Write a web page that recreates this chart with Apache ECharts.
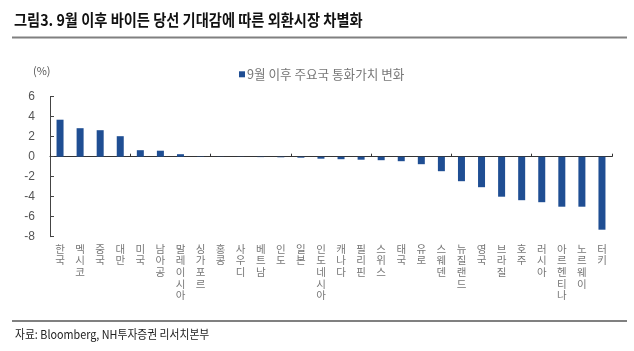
<!DOCTYPE html>
<html>
<head>
<meta charset="utf-8">
<script src="https://cdn.jsdelivr.net/npm/echarts@6/dist/echarts.min.js"></script>
<style>
  html, body { margin: 0; padding: 0; background: #fff; }
  #chart { width: 634px; height: 351px; }
</style>
</head>
<body>
<div id="chart"></div>
<script>
// 국가별 통화가치 변화 (%)
const countries = ['한국', '멕시코', '중국', '대만', '미국', '남아공', '말레이시아', '싱가포르', '홍콩', '사우디',
  '베트남', '인도', '일본', '인도네시아', '캐나다', '필리핀', '스위스', '태국', '유로', '스웨덴',
  '뉴질랜드', '영국', '브라질', '호주', '러시아', '아르헨티나', '노르웨이', '터키'];
const changes = [3.7, 2.85, 2.65, 2.05, 0.65, 0.6, 0.25, 0.04, 0.02, -0.02,
  -0.04, -0.06, -0.1, -0.2, -0.25, -0.3, -0.35, -0.45, -0.75, -1.45,
  -2.45, -3.05, -4.0, -4.35, -4.55, -5.0, -5.0, -7.3];
const seriesName = '9월 이후 주요국 통화가치 변화';
const yTicks = { min: -8, max: 6, interval: 2 };

const kr = '"Noto Sans CJK KR", "Liberation Sans", sans-serif';
const narrow = '"Liberation Sans Narrow", "Noto Sans CJK KR", sans-serif';

let myChart = echarts.init(document.getElementById('chart'), null, { renderer: 'canvas' });

let option = {
  backgroundColor: '#fff',
  animation: false,
  graphic: [
    {
      type: 'text', left: 14, top: 12,
      scaleX: 0.89,
      style: { text: '그림3. 9월 이후 바이든 당선 기대감에 따른 외환시장 차별화', font: 'bold 16px ' + narrow, fill: '#111' }
    },
    { type: 'rect', shape: { x: 12, y: 36.5, width: 615, height: 2 }, style: { fill: '#808080' } },
    { type: 'rect', shape: { x: 12, y: 320, width: 615, height: 2 }, style: { fill: '#808080' } },
    {
      type: 'text', left: 15, top: 328,
      scaleX: 0.9,
      style: { text: '자료: Bloomberg, NH투자증권 리서치본부', font: '12px ' + narrow, fill: '#222' }
    },
    {
      type: 'text', left: 33, top: 65,
      style: { text: '(%)', font: '11px ' + kr, fill: '#555' }
    }
  ],
  legend: {
    left: 234, top: 63,
    icon: 'rect',
    itemWidth: 6, itemHeight: 6, itemGap: 4,
    data: [seriesName],
    textStyle: { fontFamily: kr, fontSize: 12.6, color: '#777', padding: [0, 0, 0, -3] }
  },
  grid: { left: 50, right: 22, top: 96.7, bottom: 114.3 },
  xAxis: [
    {
      type: 'category',
      data: countries,
      position: 'bottom',
      axisLine: { show: false, onZero: false },
      axisTick: { show: false },
      axisLabel: {
        interval: 0,
        margin: 6,
        fontFamily: kr,
        fontSize: 10.5,
        lineHeight: 11.7,
        color: '#777',
        formatter: (v) => v.split('').join('\n')
      }
    },
    {
      type: 'category',
      data: countries,
      position: 'bottom',
      axisLine: { show: true, onZero: true, lineStyle: { color: '#333', width: 1 } },
      axisTick: { show: true, inside: true, length: 3, lineStyle: { color: '#333' } },
      axisLabel: { show: false }
    }
  ],
  yAxis: {
    type: 'value',
    min: yTicks.min, max: yTicks.max, interval: yTicks.interval,
    axisLine: { show: true, lineStyle: { color: '#444', width: 1 } },
    axisTick: { show: true, inside: true, length: 4, lineStyle: { color: '#444' } },
    splitLine: { show: false },
    axisLabel: { margin: 15, fontFamily: '"Liberation Sans", sans-serif', fontSize: 12, color: '#555' }
  },
  series: [{
    name: seriesName,
    type: 'bar',
    xAxisIndex: 0,
    data: changes,
    barWidth: 7,
    itemStyle: { color: '#1f4e93' }
  }]
};
myChart.setOption(option);
</script>
</body>
</html>
